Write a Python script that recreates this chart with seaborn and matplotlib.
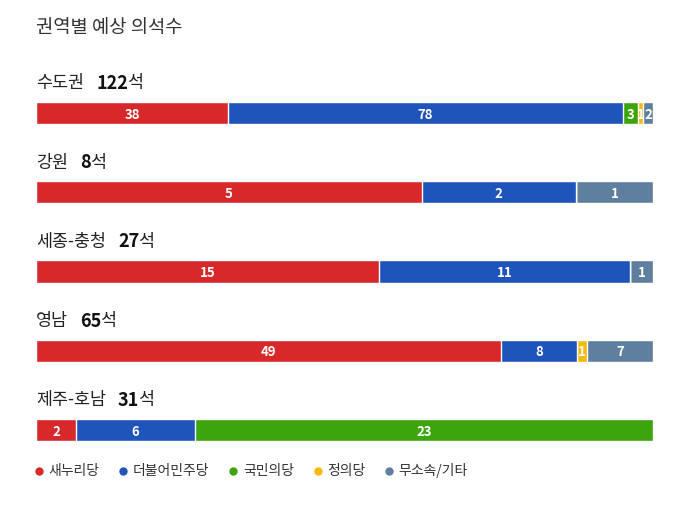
import pandas as pd
import matplotlib
matplotlib.use('Agg')
import matplotlib.pyplot as plt
import seaborn as sns
from matplotlib.lines import Line2D

sns.set_style('white')
plt.rcParams['font.family'] = ['Noto Sans CJK KR', 'DejaVu Sans']

# 데이터
regions = ['수도권', '강원', '세종-충청', '영남', '제주-호남']
parties = ['새누리당', '더불어민주당', '국민의당', '정의당', '무소속/기타']
colors = ['#d7282a', '#1f55bb', '#3ca50c', '#f6b90c', '#5f7f9e']
seats = {
    '새누리당':     [38, 5, 15, 49, 2],
    '더불어민주당': [78, 2, 11, 8, 6],
    '국민의당':     [3, 0, 0, 0, 23],
    '정의당':       [1, 0, 0, 1, 0],
    '무소속/기타':  [2, 1, 1, 7, 0],
}

df = pd.DataFrame(seats, index=regions)
totals = df.sum(axis=1)
frac = df.div(totals, axis=0)
ends = frac.cumsum(axis=1)
starts = ends - frac

W, H = 675, 507
fig = plt.figure(figsize=(W / 100, H / 100), dpi=100)
ax = fig.add_axes([36 / W, 0, 617 / W, 1])

# 누적 막대 (뒤에서부터 그리기)
for p, c in reversed(list(zip(parties, colors))):
    d = pd.DataFrame({'region': regions, 'end': ends[p].values})
    sns.barplot(data=d, x='end', y='region', color=c, saturation=1,
                width=0.28, edgecolor='white', linewidth=1, orient='h', ax=ax)

ax.set_xlim(0, 1)
top = 113 / 79.25
ax.set_ylim((H - 113) / 79.25, -top)
ax.axis('off')

# 막대 안 숫자
for i, r in enumerate(regions):
    for p in parties:
        v = df.loc[r, p]
        if v > 0:
            ax.text((starts.loc[r, p] + ends.loc[r, p]) / 2, i + 0.02, str(v),
                    ha='center', va='center', color='white',
                    fontsize=9.5, fontweight='bold')

# 권역 제목
fig.canvas.draw()
rend = fig.canvas.get_renderer()
inv = ax.transData.inverted()
for i, r in enumerate(regions):
    y = i - 0.375
    t1 = ax.text(0, y, r, ha='left', va='center', fontsize=12.5, color='#222222')
    bb = t1.get_window_extent(rend)
    x2 = inv.transform((bb.x1 + 12, 0))[0]
    t2 = ax.text(x2, y, str(totals[r]), ha='left', va='center',
                 fontsize=13, fontweight='bold', color='#111111')
    bb2 = t2.get_window_extent(rend)
    x3 = inv.transform((bb2.x1 - 1, 0))[0]
    ax.text(x3, y, '석', ha='left', va='center', fontsize=12.5, color='#222222')

fig.text(36 / W, 1 - 28 / H, '권역별 예상 의석수', ha='left', va='center',
         fontsize=13.5, color='#333333')

# 범례
handles = [Line2D([], [], marker='o', linestyle='', color=c, markersize=5)
           for c in colors]
fig.legend(handles, parties, loc='center left', bbox_to_anchor=(21 / W, 1 - 471 / H),
           ncol=5, frameon=False, fontsize=10, handletextpad=0.3, handlelength=0.8,
           columnspacing=1.3, labelcolor='#333333')

fig.savefig('out.png', dpi=100, facecolor='white')
